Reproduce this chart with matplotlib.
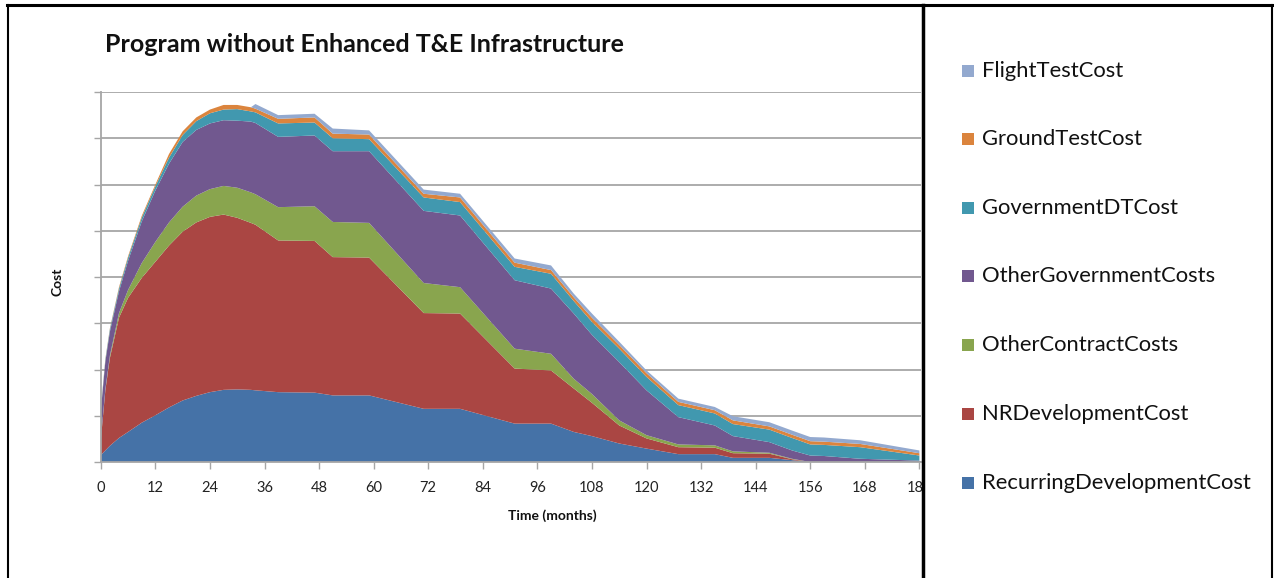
import matplotlib
matplotlib.use("Agg")
import matplotlib.pyplot as plt
from matplotlib.patches import Rectangle
from matplotlib.lines import Line2D

# Time axis (months) at which each cost series is sampled
months = [0, 1, 2, 4, 6, 9, 12, 15, 18, 21, 24, 27, 30, 33, 34, 39, 47, 51, 59,
          71, 79, 91, 99, 104, 108, 114, 120, 127, 135, 139, 147, 152, 156, 159,
          167, 180]

# Monthly cost per category (stacked, bottom to top)
recurring_dev = [0.15, 0.25, 0.35, 0.52, 0.65, 0.85, 1.01, 1.18, 1.33, 1.43, 1.51,
                 1.56, 1.57, 1.56, 1.55, 1.51, 1.50, 1.44, 1.44, 1.15, 1.15, 0.83,
                 0.83, 0.65, 0.56, 0.40, 0.29, 0.17, 0.17, 0.09, 0.09, 0.04, 0.0,
                 0.0, 0.0, 0.0]
nr_dev = [0.32, 1.30, 1.90, 2.60, 2.90, 3.13, 3.32, 3.50, 3.65, 3.75, 3.79, 3.79,
          3.71, 3.61, 3.58, 3.28, 3.28, 2.99, 2.98, 2.07, 2.06, 1.19, 1.15, 0.94,
          0.72, 0.39, 0.22, 0.15, 0.14, 0.10, 0.09, 0.02, 0.0, 0.0, 0.0, 0.0]
other_contract = [0.02, 0.02, 0.05, 0.10, 0.17, 0.32, 0.43, 0.50, 0.54, 0.58, 0.60,
                  0.62, 0.65, 0.66, 0.66, 0.72, 0.75, 0.76, 0.75, 0.65, 0.57, 0.43,
                  0.36, 0.21, 0.19, 0.11, 0.07, 0.06, 0.05, 0.04, 0.02, 0.01, 0.0,
                  0.0, 0.0, 0.0]
other_government = [0.61, 0.60, 0.52, 0.47, 0.63, 0.90, 1.11, 1.27, 1.40, 1.42, 1.42,
                    1.42, 1.45, 1.53, 1.54, 1.52, 1.53, 1.53, 1.55, 1.56, 1.55, 1.48,
                    1.41, 1.41, 1.28, 1.26, 0.97, 0.59, 0.43, 0.33, 0.23, 0.18, 0.14,
                    0.13, 0.07, 0.03]
government_dt = [0.03, 0.04, 0.05, 0.06, 0.07, 0.08, 0.09, 0.13, 0.15, 0.19, 0.22,
                 0.23, 0.25, 0.22, 0.23, 0.29, 0.28, 0.28, 0.26, 0.29, 0.29, 0.29,
                 0.32, 0.27, 0.28, 0.29, 0.29, 0.26, 0.26, 0.26, 0.27, 0.27, 0.24,
                 0.24, 0.25, 0.11]
ground_test = [0.02, 0.02, 0.02, 0.03, 0.03, 0.04, 0.04, 0.08, 0.08, 0.08, 0.08,
               0.10, 0.09, 0.09, 0.08, 0.10, 0.11, 0.10, 0.10, 0.08, 0.10, 0.09,
               0.08, 0.08, 0.09, 0.08, 0.08, 0.07, 0.07, 0.08, 0.07, 0.07, 0.07,
               0.07, 0.07, 0.05]
flight_test = [0.0, 0.0, 0.0, 0.0, 0.0, 0.0, 0.0, 0.0, 0.0, 0.0, 0.0, 0.0, 0.0, 0.0,
               0.10, 0.08, 0.08, 0.11, 0.09, 0.09, 0.08, 0.09, 0.10, 0.08, 0.09,
               0.07, 0.06, 0.07, 0.07, 0.09, 0.09, 0.09, 0.09, 0.09, 0.08, 0.06]

series_names = ["RecurringDevelopmentCost", "NRDevelopmentCost", "OtherContractCosts",
                "OtherGovernmentCosts", "GovernmentDTCost", "GroundTestCost",
                "FlightTestCost"]
series_colors = ["#4572A7", "#AA4643", "#89A54E", "#71588F", "#4198AF", "#DB843D",
                 "#93A9CF"]
x_ticks = list(range(0, 181, 12))

title_text = "Program without Enhanced T&E Infrastructure"
x_label = "Time (months)"
y_label = "Cost"

FONT = ["Lato", "DejaVu Sans"]

W, H = 1274, 578
fig = plt.figure(figsize=(W / 100, H / 100), dpi=100)
fig.patch.set_facecolor("white")


def fx(px):
    return px / W


def fy(py):
    return 1 - py / H


# Plot area
left_px, right_px, top_px, bottom_px = 100.8, 921.0, 92.0, 462.0
ax = fig.add_axes([fx(left_px), fy(bottom_px), fx(right_px) - fx(left_px),
                   fy(top_px) - fy(bottom_px)])
ax.set_zorder(0)

series = [recurring_dev, nr_dev, other_contract, other_government, government_dt,
          ground_test, flight_test]
ax.stackplot(months, *series, colors=series_colors, linewidth=0, zorder=2)

x_max = 180 * (right_px - left_px) / (919.4 - left_px)
ax.set_xlim(0, x_max)
ax.set_ylim(0, 8)
ax.set_yticks(range(0, 9))
ax.set_yticklabels([])
ax.set_xticks(x_ticks)
ax.set_xticklabels([str(t) for t in x_ticks], fontfamily=FONT, fontsize=10.5,
                   color="#222222")

grid_color = "#a6a6a6"
ax.yaxis.grid(True, color=grid_color, linewidth=1.3)
ax.set_axisbelow(True)
for side in ("top", "right"):
    ax.spines[side].set_visible(False)
for side in ("left", "bottom"):
    ax.spines[side].set_color(grid_color)
    ax.spines[side].set_linewidth(1.3)
ax.tick_params(axis="both", direction="out", length=5, width=1.0, color=grid_color)
ax.tick_params(axis="x", pad=9)

# Titles and axis labels
fig.text(fx(105), fy(45), title_text, fontfamily=FONT, fontweight="bold",
         fontsize=18, ha="left", va="center", color="#111111")
fig.text(fx(552), fy(516), x_label, fontfamily=FONT, fontweight="bold",
         fontsize=10, ha="center", va="center", color="#111111")
fig.text(fx(58), fy(282), y_label, fontfamily=FONT, fontweight="bold",
         fontsize=10, ha="center", va="center", rotation=90, color="#111111")

# Legend panel on the right, drawn over the plot area edge
fig.add_artist(Rectangle((fx(922), 0), 1 - fx(922), fy(4), transform=fig.transFigure,
                         facecolor="white", edgecolor="none", zorder=1))
row_y = [71, 139, 208, 276, 345, 414, 483]
for name, color, yy in zip(series_names[::-1], series_colors[::-1], row_y):
    fig.add_artist(Rectangle((fx(962), fy(yy + 6)), fx(12), 12 / H,
                             transform=fig.transFigure, facecolor=color,
                             edgecolor="none", zorder=2))
    fig.text(fx(982), fy(yy), name, fontfamily=FONT, fontsize=15.8,
             ha="left", va="center", color="#111111", zorder=3)


# Outer frame lines
def frame_line(x0, y0, x1, y1, lw):
    fig.add_artist(Line2D([fx(x0), fx(x1)], [fy(y0), fy(y1)], transform=fig.transFigure,
                          color="black", linewidth=lw, zorder=4))


frame_line(7, 5, 1274, 5, 2.2)
frame_line(8, 5, 8, 578, 1.5)
frame_line(922.5, 5, 922.5, 578, 2.5)
frame_line(1272, 5, 1272, 578, 1.5)

fig.savefig("out.png", dpi=100, facecolor="white")
